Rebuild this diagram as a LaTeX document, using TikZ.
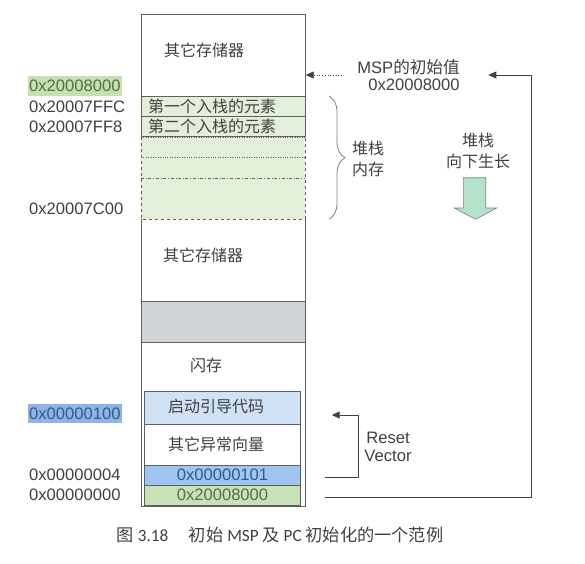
\documentclass[tikz,border=0pt]{standalone}
\usepackage{fontspec}
\setmainfont{Liberation Sans}
\newfontfamily\cjk{Noto Sans CJK SC}
\newfontfamily\capfont{Carlito}
\usepackage{tikz}
\usetikzlibrary{arrows.meta,positioning,decorations.pathreplacing}
\definecolor{ink}{HTML}{404040}
\definecolor{edge}{HTML}{5F5F5F}
\definecolor{stackg}{HTML}{E3EFD9}
\definecolor{grayb}{HTML}{D0D3D6}
\definecolor{bootb}{HTML}{CFE2F6}
\definecolor{pcb}{HTML}{9FC5F0}
\definecolor{mspg}{HTML}{C9E2B5}
\definecolor{hlg}{HTML}{C6E0B4}
\definecolor{hlb}{HTML}{8FB4E3}
\definecolor{hlgt}{HTML}{55703F}
\definecolor{hlbt}{HTML}{2E5C8A}
\definecolor{arrg}{HTML}{B4E2CB}

\begin{document}
\begin{tikzpicture}[x=1pt,y=-1pt,
  every node/.style={text=ink,inner sep=1pt,font=\fontsize{16.6}{18.3}\selectfont},
  zh/.style={font=\fontsize{16}{21.7}\selectfont\cjk},
  addr/.style={anchor=west},
  cell/.style={draw=edge,line width=0.8pt},
  tip/.style={-{Triangle[length=8pt,width=7pt]},draw=ink,line width=0.7pt}]
  \useasboundingbox (0,0) rectangle (585,563);
  % memory column
  \draw[cell] (141,14) rectangle (305,96.7);
  \draw[cell,fill=stackg] (141,96.7) rectangle (305,116.7);
  \draw[cell,fill=stackg] (141,116.7) rectangle (305,136.7);
  \fill[stackg] (141,136.7) rectangle (305,219);
  \draw[edge,dotted] (141,136.7) -- (305,136.7) (141,157.3) -- (305,157.3);
  \draw[edge,dash dot] (141,177.7) -- (305,177.7);
  \draw[edge,dashed] (141,136.7) -- (141,219) -- (305,219) -- (305,136.7);
  \draw[cell] (141,219) -- (141,506) -- (305,506) -- (305,219);
  \draw[cell,fill=grayb] (141,301) rectangle (305,342.3);
  \draw[cell,fill=bootb] (144.6,391.7) rectangle (300.7,424.3);
  \draw[cell] (144.6,424.3) rectangle (300.7,465.3);
  \draw[cell,fill=pcb] (144.6,465.3) rectangle (300.7,485.3);
  \draw[cell,fill=mspg] (144.6,485.3) rectangle (300.7,505.7);
  % texts in the column
  \node[zh] (other1) at (204,50) {其它存储器};
  \node[zh,addr] (e1) at (147,106.7) {第一个入栈的元素};
  \node[zh,addr] (e2) at (147,126.7) {第二个入栈的元素};
  \node[zh] (other2) at (203,255) {其它存储器};
  \node[zh] (flash) at (206,365) {闪存};
  \node[zh] (boot) at (216,406) {启动引导代码};
  \node[zh] (vecs) at (216,444.3) {其它异常向量};
  \node[text=hlbt] (pc) at (222.5,475) {0x00000101};
  \node[text=hlgt] (sp) at (222.5,495) {0x20008000};
  % addresses
  \node[addr,fill=hlg,text=hlgt,minimum height=20pt,inner xsep=1.3pt] (a0) at (27.7,86) {0x20008000};
  \node[addr,fill=hlb,text=hlbt,minimum height=19pt,inner xsep=1.3pt] (b0) at (27.7,413.3) {0x00000100};
  \foreach \y/\t [count=\i] in {106.7/0x20007FFC,126.7/0x20007FF8,208.3/0x20007C00,475/0x00000004,495/0x00000000}
    \node[addr] (a\i) at (28,\y) {\t};
  % stack
  \draw[decorate,decoration={brace,amplitude=16pt},draw=gray,line width=0.8pt] (329,96) -- (329,219.3);
  \node[zh,align=center] (heap) at (368,159) {堆栈\\内存};
  \node[zh,align=center] (grow) at (478,151) {堆栈\\向下生长};
  \draw[fill=arrg,draw=gray,line width=0.6pt] (463.3,177.7) -- (485.7,177.7) -- (485.7,208) -- (496.7,208)
    -- (475.5,219.3) -- (454.3,208) -- (463.3,208) -- cycle;
  % initial MSP
  \node (mspv) at (408.5,66.7) {MSP{\cjk 的初始值}};
  \node (mspa) at (414,84.3) {0x20008000};
  \coordinate (mspout) at (341.7,75);
  \coordinate (mspin) at (305.7,75);
  \draw[tip,dotted] (mspout) -- (mspin);
  \coordinate (v0) at (325,497.3);
  \coordinate (loopin) at (488.3,75);
  \draw[tip] (v0) -- (531,497.3) |- (loopin);
  % reset vector
  \coordinate (v1) at (325,477.3);
  \coordinate (bootin) at (331.7,415);
  \draw[tip] (v1) -- (358.3,477.3) |- (bootin);
  \node[align=center] (rv) at (388,447) {Reset\\Vector};
  % caption
  \node[font=\fontsize{17.2}{19}\selectfont\capfont] (cap) at (280,535)
    {{\cjk 图} 3.18\hspace{1.2em}{\cjk 初始} MSP {\cjk 及} PC {\cjk 初始化的一个范例}};
\end{tikzpicture}
\end{document}
